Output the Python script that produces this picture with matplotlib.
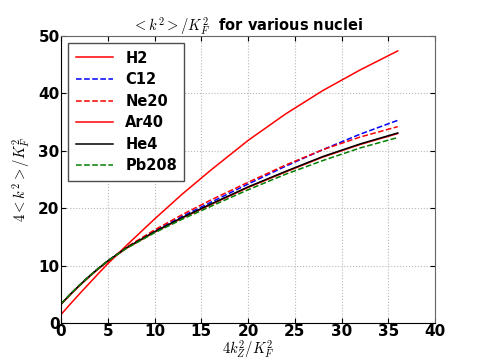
import numpy as np
import matplotlib
matplotlib.use('Agg')
import matplotlib.pyplot as plt

plt.rcParams['mathtext.fontset'] = 'cm'
plt.rcParams['font.weight'] = 'bold'

# values
x = [0, 1, 2, 3, 4, 5, 7, 10, 13, 16, 20, 24, 28, 32, 36]
h2 = [1.45, 3.3, 5.1, 6.85, 8.6, 10.3, 13.5, 18.1, 22.5, 26.6, 31.8, 36.4, 40.5, 44.1, 47.4]
c12 = [3.3, 5.0, 6.6, 8.1, 9.5, 10.8, 13.1, 16.0, 18.6, 21.0, 24.2, 27.3, 30.2, 32.9, 35.3]
ne20 = [3.3, 5.0, 6.6, 8.1, 9.5, 10.8, 13.2, 16.2, 18.9, 21.4, 24.5, 27.5, 30.2, 32.4, 34.2]
ar40 = [3.2, 4.9, 6.5, 8.0, 9.4, 10.7, 13.0, 15.8, 18.3, 20.6, 23.6, 26.3, 28.9, 31.1, 33.0]
he4 = [3.3, 5.0, 6.6, 8.1, 9.5, 10.8, 13.1, 15.9, 18.4, 20.7, 23.7, 26.4, 29.0, 31.2, 33.1]
pb208 = [3.3, 5.0, 6.6, 8.1, 9.5, 10.8, 13.0, 15.7, 18.1, 20.3, 23.2, 25.9, 28.3, 30.5, 32.3]

names = ['H2', 'C12', 'Ne20', 'Ar40', 'He4', 'Pb208']
series = [h2, c12, ne20, ar40, he4, pb208]
styles = ['r-', 'b--', 'r--', 'r-', 'k-', 'g--']

fig = plt.figure(figsize=(4.84, 3.6), dpi=100)
ax = fig.add_axes([0.126, 0.103, 0.773, 0.797])
for y, s, n in zip(series, styles, names):
    ax.plot(x, y, s, lw=1.1, label=n)

ax.set_xlim(0, 40)
ax.set_ylim(0, 50)
ax.set_xticks(np.arange(0, 41, 5))
ax.set_yticks(np.arange(0, 51, 10))
ax.grid(True, ls=':', color='0.72', lw=0.8)
ax.tick_params(direction='in', top=True, right=True, labelsize=11, pad=1)
for lab in ax.get_xticklabels() + ax.get_yticklabels():
    lab.set_fontweight('bold')
for sp in ['top', 'right']:
    ax.spines[sp].set_color('0.4')

ax.set_title(r'$<k^2>/K_F^2$  for various nuclei', fontsize=10.5, fontweight='bold', pad=3)
ax.set_xlabel(r'$4k_Z^2/K_F^2$', fontsize=10.5, labelpad=0)
ax.set_ylabel(r'$4<k^2>/K_F^2$', fontsize=10.5, labelpad=4)

leg = ax.legend(loc='upper left', fancybox=False, prop={'weight': 'bold', 'size': 10.5},
                handlelength=2.6, labelspacing=0.45, borderpad=0.5, framealpha=1)
leg.get_frame().set_edgecolor('0.3')

fig.savefig('out.png', dpi=100)
